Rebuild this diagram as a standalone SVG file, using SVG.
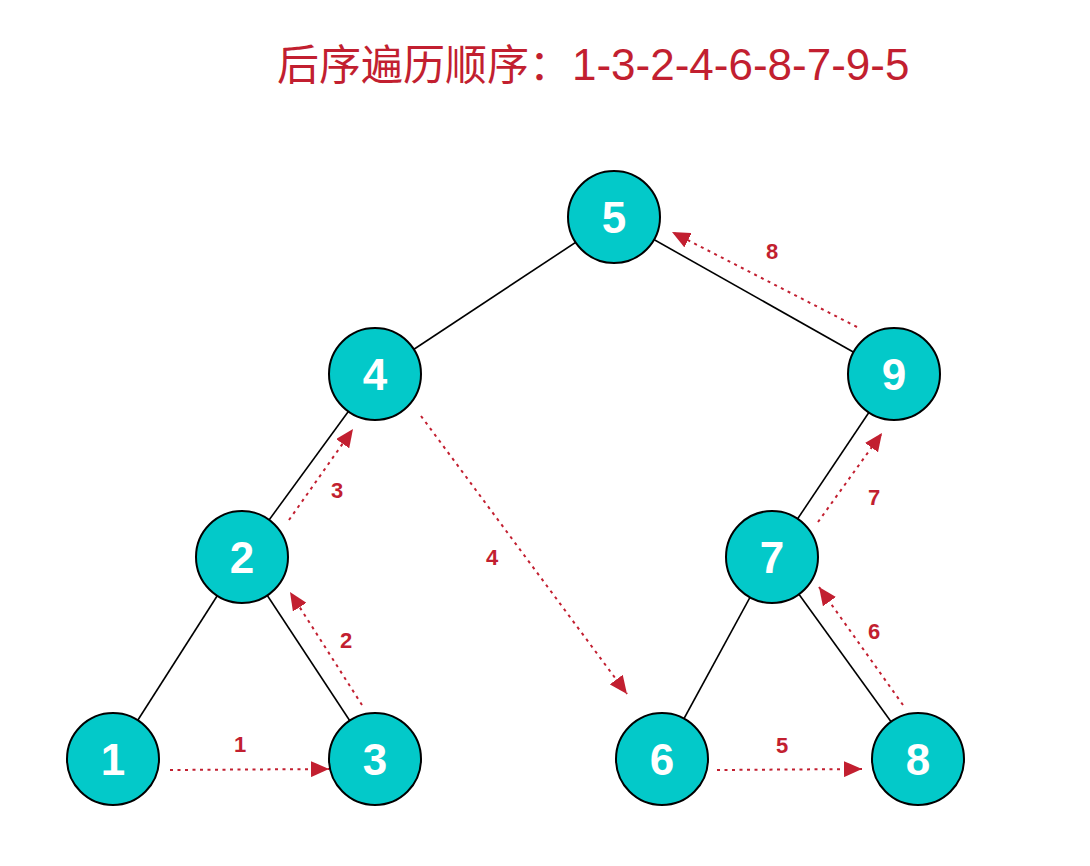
<svg xmlns="http://www.w3.org/2000/svg" width="1090" height="866" viewBox="0 0 1090 866">
<style>
.edge{stroke:#000;stroke-width:1.6;fill:none}
.node circle{fill:#03c9c9;stroke:#000;stroke-width:2}
.node text{font-family:"Liberation Sans",Arial,sans-serif;font-weight:bold;font-size:44px;fill:#fff;text-anchor:middle}
.flow{stroke:#c21f30;stroke-width:2;stroke-dasharray:3 4.5;fill:none;marker-end:url(#ah)}
.lbl{font-family:"Liberation Sans",Arial,sans-serif;font-weight:bold;font-size:22px;fill:#c21f30;text-anchor:middle}
.title{font-family:"Liberation Sans","Noto Sans CJK SC",sans-serif;fill:#c21f30}
</style>
<defs>
<marker id="ah" markerUnits="userSpaceOnUse" markerWidth="20" markerHeight="16" viewBox="0 0 20 16" refX="18" refY="8" orient="auto">
<path d="M0,0 L18,8 L0,16 Z" fill="#c21f30"/>
</marker>
</defs>
<text class="title" y="80" font-size="42"><tspan x="277">后序遍历顺序：</tspan><tspan x="572" font-size="44">1-3-2-4-6-8-7-9-5</tspan></text>
<g id="connectors">
<line class="edge" x1="614" y1="217" x2="375" y2="375"/>
<line class="edge" x1="614" y1="217" x2="894" y2="375"/>
<line class="edge" x1="375" y1="375" x2="242" y2="557"/>
<line class="edge" x1="242" y1="557" x2="113" y2="759"/>
<line class="edge" x1="242" y1="557" x2="375" y2="759"/>
<line class="edge" x1="894" y1="375" x2="772" y2="557"/>
<line class="edge" x1="772" y1="557" x2="662" y2="759"/>
<line class="edge" x1="772" y1="557" x2="918" y2="759"/>
<line class="flow" x1="170" y1="770" x2="329" y2="769"/>
<line class="flow" x1="362" y1="705" x2="290" y2="592"/>
<line class="flow" x1="289" y1="520" x2="353" y2="429"/>
<line class="flow" x1="421" y1="416" x2="627" y2="694"/>
<line class="flow" x1="717" y1="770" x2="862" y2="769"/>
<line class="flow" x1="903" y1="705" x2="819" y2="587"/>
<line class="flow" x1="818" y1="522" x2="882" y2="433"/>
<line class="flow" x1="857" y1="327" x2="672" y2="232"/>
<text class="lbl" x="240" y="752">1</text>
<text class="lbl" x="346" y="648">2</text>
<text class="lbl" x="337" y="498">3</text>
<text class="lbl" x="492" y="565">4</text>
<text class="lbl" x="782" y="753">5</text>
<text class="lbl" x="874" y="639">6</text>
<text class="lbl" x="874" y="505">7</text>
<text class="lbl" x="772" y="259">8</text>
</g>
<g id="n5" class="node"><circle cx="614" cy="217" r="46"/><text x="614" y="233">5</text></g>
<g id="n4" class="node"><circle cx="375" cy="374" r="46"/><text x="375" y="390">4</text></g>
<g id="n9" class="node"><circle cx="894" cy="374" r="46"/><text x="894" y="390">9</text></g>
<g id="n2" class="node"><circle cx="242" cy="557" r="46"/><text x="242" y="573">2</text></g>
<g id="n7" class="node"><circle cx="772" cy="557" r="46"/><text x="772" y="573">7</text></g>
<g id="n1" class="node"><circle cx="113" cy="759" r="46"/><text x="113" y="775">1</text></g>
<g id="n3" class="node"><circle cx="375" cy="759" r="46"/><text x="375" y="775">3</text></g>
<g id="n6" class="node"><circle cx="662" cy="759" r="46"/><text x="662" y="775">6</text></g>
<g id="n8" class="node"><circle cx="918" cy="759" r="46"/><text x="918" y="775">8</text></g>
</svg>
